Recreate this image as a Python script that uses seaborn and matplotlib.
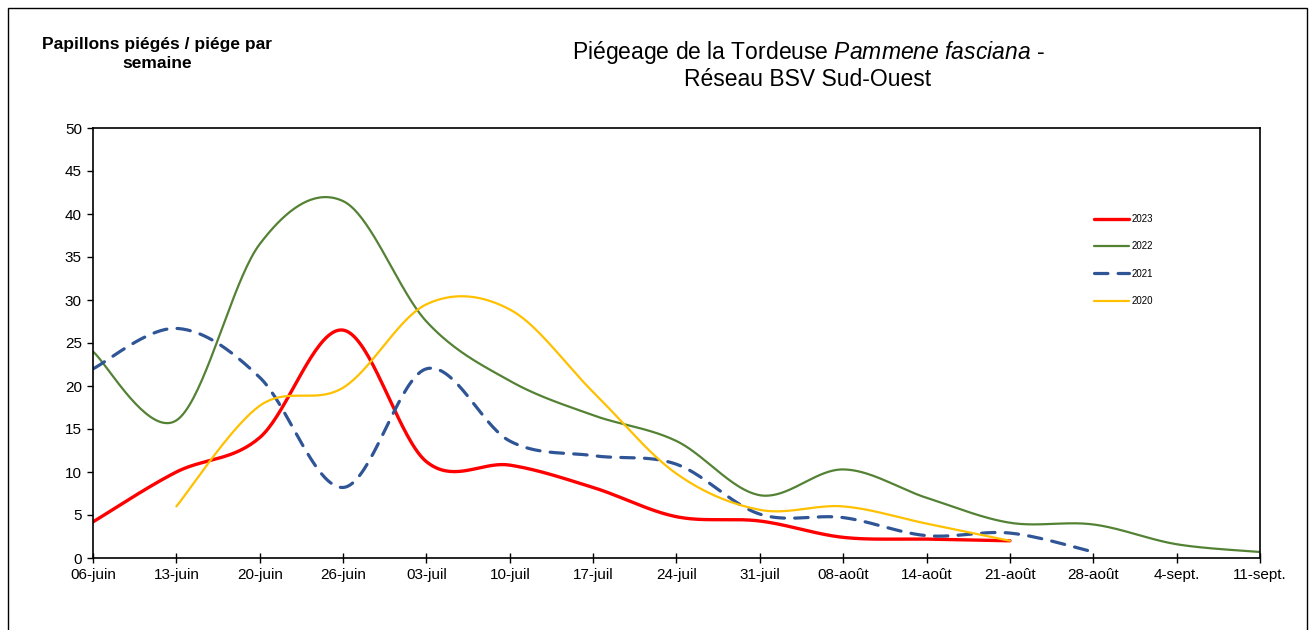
import matplotlib
matplotlib.use("Agg")
import matplotlib.pyplot as plt
from matplotlib.patches import Rectangle
import seaborn as sns
import numpy as np
import pandas as pd

# weekly trap counts (moths / trap / week)
weeks = ['06-juin', '13-juin', '20-juin', '26-juin', '03-juil', '10-juil', '17-juil',
         '24-juil', '31-juil', '08-août', '14-août', '21-août', '28-août', '4-sept.', '11-sept.']
y2023 = [4.2, 10.0, 14.0, 26.5, 11.2, 10.8, 8.2, 4.8, 4.3, 2.4, 2.2, 2.0]
y2022 = [24.0, 16.0, 36.5, 41.5, 27.5, 20.6, 16.6, 13.6, 7.3, 10.3, 7.0, 4.1, 3.9, 1.6, 0.7]
y2021 = [22.0, 26.7, 21.0, 8.2, 22.0, 13.6, 11.9, 10.9, 5.1, 4.7, 2.6, 2.9, 0.7]
y2020 = [6.0, 17.7, 19.8, 29.5, 28.9, 19.3, 9.8, 5.6, 6.0, 4.0, 2.0]
start2020 = 1  # 2020 series begins on 13-juin

series = [('2023', y2023, 0, '#FF0000', 2.4),
          ('2022', y2022, 0, '#548235', 1.6),
          ('2021', y2021, 0, '#2F5597', 2.3),
          ('2020', y2020, start2020, '#FFC000', 1.6)]


def smooth(xs, ys, n=40):
    # Excel-style smoothed line: cubic Bezier with Catmull-Rom control points
    p = np.column_stack([xs, ys]).astype(float)
    pts = np.vstack([p[0], p, p[-1]])
    out = []
    t = np.linspace(0, 1, n)[:, None]
    for i in range(1, len(pts) - 2):
        p0, p1, p2, p3 = pts[i - 1], pts[i], pts[i + 1], pts[i + 2]
        c1 = p1 + (p2 - p0) / 6
        c2 = p2 - (p3 - p1) / 6
        seg = ((1 - t) ** 3) * p1 + 3 * ((1 - t) ** 2) * t * c1 + 3 * (1 - t) * t ** 2 * c2 + t ** 3 * p2
        out.append(seg if i == 1 else seg[1:])
    out = np.vstack(out)
    return out[:, 0], out[:, 1]


sns.set_style('white')
plt.rcParams['font.family'] = ['Liberation Sans', 'DejaVu Sans']
plt.rcParams['text.color'] = 'black'
plt.rcParams['xtick.color'] = 'black'
plt.rcParams['ytick.color'] = 'black'
plt.rcParams['mathtext.fontset'] = 'custom'
plt.rcParams['mathtext.rm'] = 'Liberation Sans'
plt.rcParams['mathtext.it'] = 'Liberation Sans:italic'

fig = plt.figure(figsize=(13.12, 6.3), dpi=100)
ax = fig.add_axes([93 / 1312, 1 - 558 / 630, (1260 - 93) / 1312, (558 - 128) / 630])

for name, vals, start, color, lw in series:
    xs = np.arange(start, start + len(vals))
    sx, sy = smooth(xs, vals)
    df = pd.DataFrame({'x': sx, 'y': sy})
    sns.lineplot(data=df, x='x', y='y', ax=ax, color=color, linewidth=lw,
                 estimator=None, sort=False, label=name)
    if name == '2021':
        ax.lines[-1].set_dashes((4.2, 3.2))
        ax.lines[-1].set_dash_capstyle('round')

ax.set_xlim(0, len(weeks) - 1)
ax.set_ylim(0, 50)
ax.set_xticks(range(len(weeks)))
ax.set_xticklabels(weeks)
ax.set_yticks(range(0, 51, 5))
ax.set_xlabel('')
ax.set_ylabel('')
ax.tick_params(axis='x', direction='inout', length=7, width=1, labelsize=11, pad=4,
               bottom=True, labelcolor='black')
ax.tick_params(axis='y', direction='out', length=4, width=1, labelsize=11, pad=4,
               left=True, labelcolor='black')
for s in ax.spines.values():
    s.set_color('black')
    s.set_linewidth(1.2)

leg = ax.legend(loc='upper left', bbox_to_anchor=((1094 - 93) / 1167, (558 - 214) / 430),
                frameon=False, fontsize=7, handlelength=3.6, labelspacing=1.78,
                handletextpad=0.3, borderpad=0, borderaxespad=0)
for txt in leg.get_texts():
    txt.set_color('black')

fig.text(157 / 1312, 1 - 54 / 630, 'Papillons piégés / piége par\nsemaine', ha='center', va='center',
         fontsize=12.5, fontweight='bold', linespacing=1.35, color='black')
fig.text(808 / 1312, 1 - 65 / 630,
         'Piégeage de la Tordeuse $\\mathit{Pammene\\ fasciana}$ -\nRéseau BSV Sud-Ouest',
         ha='center', va='center', fontsize=16.5, linespacing=1.15, color='black')

fig.patches.append(Rectangle((8 / 1312, -0.05), 1299 / 1312, 1.05 - 8 / 630, transform=fig.transFigure,
                             fill=False, edgecolor='black', linewidth=1.0))

fig.savefig('out.png', dpi=100)
